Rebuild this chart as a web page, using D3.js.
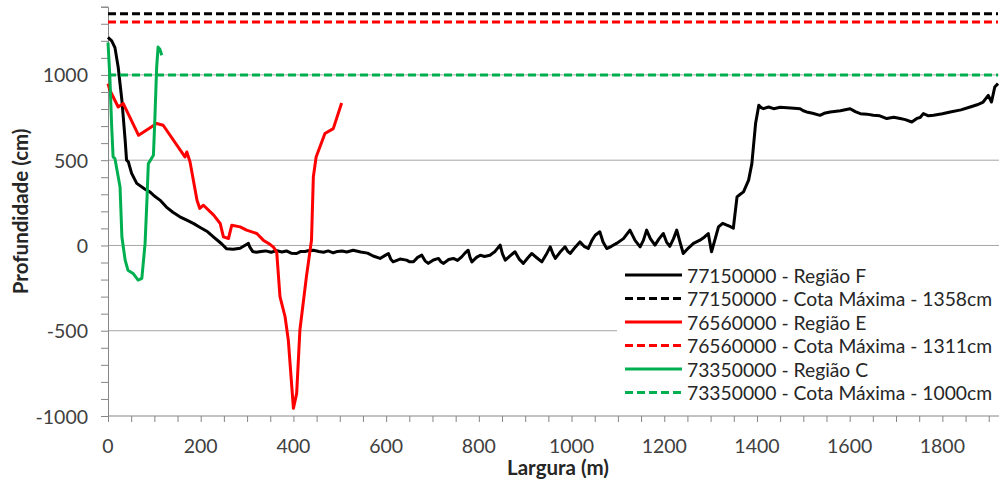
<!DOCTYPE html>
<html>
<head>
<meta charset="utf-8">
<script src="https://cdn.jsdelivr.net/npm/d3@7.9.0/dist/d3.min.js"></script>
<style>
  html, body { margin: 0; padding: 0; background: #fff; }
  svg { display: block; font-family: Lato, "Open Sans", sans-serif; }
</style>
</head>
<body>
<div id="viz"></div>
<script>
// Região F (77150000) - [largura m, profundidade cm]
const regiaoF = [
  [0,1220],[8,1200],[15,1160],[22,1045],[30,850],[37,617],[40,500],[44,490],[46,470],[51,423],[62,364],
  [80,330],[91,313],[100,290],[112,266],[126,225],[140,195],[155,168],[170,148],[185,128],[198,107],[215,80],
  [228,49],[245,10],[256,-20],[270,-22],[285,-16],[295,0],[303,12],[306,-10],[312,-35],[320,-40],[330,-35],
  [340,-32],[352,-40],[364,-30],[375,-38],[385,-32],[395,-45],[407,-47],[415,-36],[425,-35],[434,-30],
  [443,-28],[455,-35],[465,-40],[475,-32],[486,-43],[495,-35],[505,-32],[515,-38],[529,-28],[545,-38],
  [560,-45],[572,-62],[587,-76],[598,-58],[605,-47],[610,-80],[615,-96],[630,-80],[644,-86],[650,-95],
  [659,-96],[668,-70],[677,-57],[684,-90],[691,-105],[702,-85],[713,-76],[718,-95],[724,-105],[735,-82],
  [745,-76],[754,-88],[763,-67],[770,-45],[777,-28],[781,-70],[785,-96],[795,-70],[803,-57],[812,-65],
  [824,-57],[835,-35],[846,2],[851,-50],[857,-86],[868,-60],[878,-37],[887,-80],[896,-105],[905,-75],
  [914,-47],[925,-72],[936,-96],[945,-55],[954,-8],[960,-50],[965,-76],[975,-40],[986,-8],[992,-35],
  [997,-47],[1008,-10],[1018,21],[1027,-5],[1036,-18],[1044,30],[1051,60],[1061,80],[1068,20],[1076,-18],
  [1086,-5],[1097,12],[1112,40],[1126,90],[1137,30],[1148,-8],[1155,30],[1162,90],[1170,40],[1180,2],
  [1189,40],[1198,70],[1205,20],[1212,-5],[1220,40],[1227,90],[1234,20],[1241,-47],[1252,-15],[1263,12],
  [1277,31],[1287,50],[1295,70],[1302,-37],[1310,40],[1317,109],[1326,130],[1335,119],[1343,110],
  [1349,101],[1357,285],[1364,300],[1371,314],[1382,383],[1389,480],[1397,715],[1404,822],[1409,808],
  [1414,802],[1425,812],[1436,802],[1450,810],[1465,808],[1480,805],[1493,802],[1500,790],[1507,783],
  [1520,775],[1536,763],[1545,775],[1558,783],[1580,790],[1601,802],[1612,785],[1623,773],[1637,770],
  [1651,763],[1665,760],[1680,744],[1695,752],[1709,744],[1720,738],[1734,724],[1745,745],[1752,750],
  [1759,773],[1770,760],[1781,763],[1800,772],[1817,783],[1840,795],[1860,812],[1875,825],[1888,841],
  [1899,880],[1906,841],[1913,929],[1920,949]
];
// Região E (76560000)
const regiaoE = [
  [0,949],[4,910],[22,812],[33,832],[66,646],[105,715],[119,705],[166,519],[170,548],[177,490],
  [192,265],[198,217],[206,236],[228,178],[242,129],[249,50],[260,41],[267,119],[285,109],[299,90],
  [321,70],[335,31],[350,5],[357,-10],[364,-40],[371,-300],[382,-418],[389,-555],[400,-955],[407,-867],
  [414,-496],[428,-184],[439,31],[443,402],[449,519],[468,656],[486,685],[504,835]
];
// Região C (73350000)
const regiaoC = [
  [0,1190],[4,988],[8,695],[11,519],[15,509],[26,343],[30,50],[37,-86],[43,-145],[54,-164],
  [65,-203],[73,-193],[76,-105],[80,12],[84,265],[87,480],[98,529],[101,734],[105,1046],[108,1163],
  [112,1150],[116,1115]
];
const cotaF = 1358, cotaE = 1311, cotaC = 1000;

const legendLabels = [
  "77150000 - Região F",
  "77150000 - Cota Máxima - 1358cm",
  "76560000 - Região E",
  "76560000 - Cota Máxima - 1311cm",
  "73350000 - Região C",
  "73350000 - Cota Máxima - 1000cm"
];
const xTicks = [0, 200, 400, 600, 800, 1000, 1200, 1400, 1600, 1800];
const yTicks = [-1000, -500, 0, 500, 1000];

const W = 999, H = 486;
const svg = d3.select("#viz").append("svg").attr("width", W).attr("height", H);

const x = d3.scaleLinear().domain([0, 1920]).range([108, 998]);
const y = d3.scaleLinear().domain([-1000, 1400]).range([416, 6.7]);

const gridColor = "#a6a6a6", axisColor = "#868686";

// gridlines
svg.append("g").selectAll("line")
  .data(yTicks.filter(d => d > -1000))
  .join("line")
  .attr("x1", x(0)).attr("x2", W)
  .attr("y1", d => y(d)).attr("y2", d => y(d))
  .attr("stroke", gridColor).attr("stroke-width", 1);

// y axis with minor ticks
const yAxis = svg.append("g").attr("transform", `translate(${x(0)},0)`)
  .call(d3.axisLeft(y).tickValues(d3.range(-1000, 1401, 100)).tickSize(7).tickFormat(""));
yAxis.select(".domain").attr("stroke", axisColor);
yAxis.selectAll(".tick line").attr("stroke", axisColor);

svg.append("g").selectAll("text").data(yTicks).join("text")
  .attr("x", 88).attr("y", d => y(d))
  .attr("text-anchor", "end").attr("dominant-baseline", "central")
  .attr("font-size", 19.5).attr("fill", "#404040")
  .text(d => d);

// x axis with minor ticks
const xAxis = svg.append("g").attr("transform", `translate(0,${y(-1000)})`)
  .call(d3.axisBottom(x).tickValues(d3.range(0, 1901, 50)).tickSize(6).tickFormat(""));
xAxis.select(".domain").attr("stroke", axisColor).attr("d", `M${x(0)},0H${W}`);
xAxis.selectAll(".tick line").attr("stroke", axisColor);

svg.append("g").selectAll("text").data(xTicks).join("text")
  .attr("x", d => x(d)).attr("y", 445)
  .attr("text-anchor", "middle").attr("dominant-baseline", "central")
  .attr("font-size", 19.5).attr("fill", "#404040")
  .text(d => d);

// axis titles
svg.append("text")
  .attr("transform", `translate(20,${(y(1400) + y(-1000)) / 2}) rotate(-90)`)
  .attr("text-anchor", "middle").attr("dominant-baseline", "central")
  .attr("font-size", 20.5).attr("font-weight", "bold").attr("fill", "#262626")
  .text("Profundidade (cm)");
svg.append("text")
  .attr("x", 558).attr("y", 467)
  .attr("text-anchor", "middle").attr("dominant-baseline", "central")
  .attr("font-size", 20.5).attr("font-weight", "bold").attr("fill", "#262626")
  .text("Largura (m)");

// series
const line = d3.line().x(d => x(d[0])).y(d => y(d[1]));
const series = [
  { data: regiaoF, cota: cotaF, color: "#000000" },
  { data: regiaoE, cota: cotaE, color: "#ff0000" },
  { data: regiaoC, cota: cotaC, color: "#00b050" }
];
const plot = svg.append("g");
series.forEach(s => {
  plot.append("path").datum(s.data)
    .attr("fill", "none").attr("stroke", s.color)
    .attr("stroke-width", 3).attr("stroke-linejoin", "round")
    .attr("d", line);
  plot.append("path").datum([[0, s.cota], [1920, s.cota]])
    .attr("fill", "none").attr("stroke", s.color)
    .attr("stroke-width", 3).attr("stroke-dasharray", "8,4")
    .attr("d", line);
});

// legend
const legend = svg.append("g");
legend.append("rect").attr("x", 617).attr("y", 262).attr("width", W - 617).attr("height", 143).attr("fill", "#fff");
const rows = legend.selectAll("g.row")
  .data(legendLabels.map((label, i) => ({ label, color: series[Math.floor(i / 2)].color, dashed: i % 2 === 1 })))
  .join("g").attr("class", "row")
  .attr("transform", (d, i) => `translate(0,${275 + i * 23.5})`);
rows.append("line")
  .attr("x1", 625).attr("x2", 682)
  .attr("stroke", d => d.color).attr("stroke-width", 3)
  .attr("stroke-dasharray", d => d.dashed ? "8,4" : null);
rows.append("text")
  .attr("x", 687).attr("dominant-baseline", "central")
  .attr("font-size", 19.3).attr("fill", "#262626")
  .text(d => d.label);
</script>
</body>
</html>
